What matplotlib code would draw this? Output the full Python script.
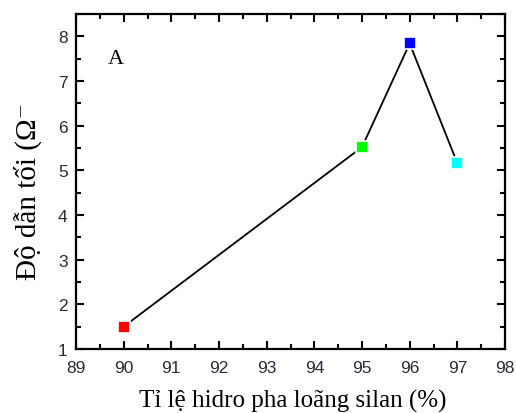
import matplotlib
matplotlib.use("Agg")
import matplotlib.pyplot as plt
from matplotlib.ticker import MultipleLocator

# tỉ lệ hidro (%) và độ dẫn tối
ratio = [90, 95, 96, 97]
conductivity = [1.5, 5.52, 7.84, 5.16]
point_colors = ["#ff0000", "#00ff00", "#0000ff", "#00ffff"]

x_ticks = [89, 90, 91, 92, 93, 94, 95, 96, 97, 98]
y_ticks = [1, 2, 3, 4, 5, 6, 7, 8]

fig = plt.figure(figsize=(5.16, 4.14), dpi=100)
ax = fig.add_axes([0.1473, 0.1546, 0.8314, 0.8092])

ax.plot(ratio, conductivity, color="black", lw=1.3, zorder=2)
for xv, yv, c in zip(ratio, conductivity, point_colors):
    ax.plot(xv, yv, marker="s", ms=8.5, color=c, mec="white", mew=1.2,
            ls="none", zorder=3)

ax.set_xlim(89, 98)
ax.set_ylim(1, 8.5)
ax.set_xticks(x_ticks)
ax.set_yticks(y_ticks)
ax.xaxis.set_minor_locator(MultipleLocator(0.5))
ax.yaxis.set_minor_locator(MultipleLocator(0.5))

ax.tick_params(which="both", direction="in", top=True, right=True,
               width=1.5, color="black")
ax.tick_params(which="major", length=6)
ax.tick_params(which="minor", length=3.5)
ax.tick_params(axis="x", pad=8)
ax.tick_params(axis="y", pad=6)
for lab in ax.get_xticklabels() + ax.get_yticklabels():
    lab.set_fontfamily("Liberation Sans")
    lab.set_fontsize(12.5)
    lab.set_color("#2a2a3a")

for sp in ax.spines.values():
    sp.set_linewidth(1.6)

ax.text(89.67, 7.4, "A", family="Liberation Serif", fontsize=16)

fig.text(0.568, 0.031, "Tỉ lệ hidro pha loãng silan (%)",
         family=["Liberation Serif", "DejaVu Serif"], fontsize=18,
         ha="center", va="center")
fig.text(0.054, 0.537, "Độ dẫn tối (Ω⁻",
         family=["Liberation Serif", "DejaVu Serif"], fontsize=21,
         rotation=90, ha="center", va="center")

fig.savefig("out.png", dpi=100, facecolor="white")
